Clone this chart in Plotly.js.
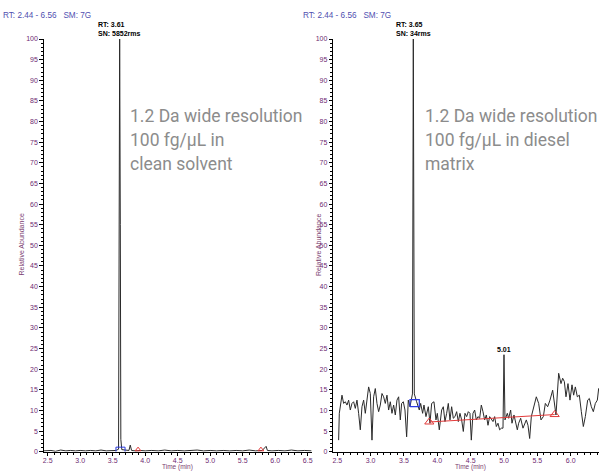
<!DOCTYPE html>
<html>
<head>
<meta charset="utf-8">
<script src="https://cdn.plot.ly/plotly-3.0.1.min.js"></script>
<style>
  html, body { margin: 0; padding: 0; overflow: hidden; background: #fff; }
  #chart { width: 610px; height: 472px; }
</style>
</head>
<body>
<div id="chart"></div>
<script>
// ---------- data ----------
// Left chromatogram: 100 fg/uL in clean solvent
const leftTime = [2.44, 2.55, 2.62, 2.70, 2.78, 2.85, 2.93, 3.00, 3.08, 3.16, 3.24, 3.32, 3.40, 3.48, 3.55, 3.59, 3.598, 3.607, 3.617, 3.625, 3.64, 3.70, 3.75, 3.77, 3.79, 3.85, 3.92, 4.0, 4.1, 4.2, 4.3, 4.4, 4.5, 4.6, 4.7, 4.8, 4.9, 5.0, 5.1, 5.2, 5.3, 5.4, 5.5, 5.6, 5.7, 5.8, 5.86, 5.88, 5.95, 6.05, 6.15, 6.25, 6.35, 6.45, 6.56];
const leftAbund = [0.2, 0.3, 0.1, 0.4, 0.2, 0.3, 0.2, 0.3, 0.2, 0.3, 0.2, 0.4, 0.2, 0.3, 0.3, 0.6, 40, 100, 55, 3, 0.5, 0.4, 0.3, 1.6, 0.3, 0.2, 0.3, 0.2, 0.3, 0.2, 0.4, 0.2, 0.3, 0.2, 0.3, 0.4, 0.2, 0.3, 0.2, 0.3, 0.2, 0.3, 0.2, 0.4, 0.2, 0.3, 1.3, 0.3, 0.2, 0.3, 0.2, 0.4, 0.2, 0.3, 0.2];

// Right chromatogram: 100 fg/uL in diesel matrix
const rightTime = [2.52, 2.53, 2.57, 2.595, 2.62, 2.645, 2.67, 2.695, 2.72, 2.745, 2.77, 2.795, 2.82, 2.845, 2.87, 2.895, 2.92, 2.945, 2.97, 2.995,
  3.02, 3.045, 3.07, 3.095, 3.12, 3.145, 3.17, 3.195, 3.22, 3.245, 3.27, 3.295, 3.32, 3.345, 3.37, 3.395, 3.42, 3.445, 3.465, 3.49,
  3.515, 3.54, 3.565, 3.59, 3.615, 3.627, 3.64, 3.655, 3.69, 3.73, 3.75, 3.78, 3.80, 3.83, 3.865, 3.89, 3.915, 3.95, 3.98, 4.0,
  4.03, 4.065, 4.09, 4.115, 4.14, 4.165, 4.19, 4.215, 4.24, 4.265, 4.29, 4.315, 4.34, 4.365, 4.39, 4.415, 4.44, 4.465, 4.49, 4.51,
  4.535, 4.56, 4.585, 4.61, 4.635, 4.66, 4.685, 4.71, 4.735, 4.76, 4.785, 4.81, 4.835, 4.86, 4.885, 4.91, 4.935, 4.96, 4.985, 5.0,
  5.015, 5.05, 5.07, 5.10, 5.12, 5.15, 5.17, 5.2, 5.22, 5.25, 5.285, 5.31, 5.335, 5.36, 5.385, 5.41, 5.435, 5.46, 5.485, 5.52,
  5.555, 5.59, 5.62, 5.655, 5.69, 5.73, 5.755, 5.78, 5.82, 5.855, 5.88, 5.905, 5.93, 5.96, 5.99, 6.02, 6.045, 6.07, 6.1, 6.13,
  6.16, 6.19, 6.22, 6.255, 6.28, 6.31, 6.34, 6.37, 6.40, 6.42, 6.45];
const rightAbund = [2.8, 9.3, 13.7, 11.7, 12.1, 11.3, 12.5, 10.1, 11.7, 12.1, 10.5, 12.5, 9.3, 5.3, 10.9, 12.5, 9.3, 12.1, 15.7, 14.1,
  2.8, 13.3, 15.3, 11.7, 9.7, 11.3, 14.1, 13.3, 11.7, 13.7, 10.1, 12.1, 9.3, 11.3, 8.9, 12.5, 13.3, 7.7, 11.7, 12.1,
  10.1, 3.6, 12.5, 10.9, 12.5, 14, 100, 14, 12.1, 10.1, 11.7, 9.3, 11.3, 8.5, 10.9, 6.9, 11.7, 12.1, 7.7, 9.3,
  5.3, 10.1, 10.9, 7.3, 9.3, 11.7, 7.7, 10.9, 8.1, 8.5, 9.7, 7.3, 9.3, 7.7, 4.9, 9.3, 8.5, 9.7, 9.3, 2.8,
  9.3, 10.1, 7.7, 8.5, 8.1, 11.3, 9.7, 7.7, 8.9, 6.4, 8.5, 7.7, 7.3, 8.5, 6.1, 6.9, 5.3, 5.7, 5.7, 23.5,
  7.7, 9.3, 8.1, 10.1, 6.9, 8.9, 7.7, 5.3, 6.9, 8.1, 5.7, 6.9, 7.7, 6.4, 3.2, 8.5, 10.1, 11.7, 13.3, 11.7,
  7.7, 8.5, 11.7, 10.9, 12.5, 14.9, 11.7, 8.9, 19.0, 16.5, 17.8, 17.0, 13.3, 16.5, 12.5, 16.2, 13.7, 15.7, 13.3, 13.7,
  9.7, 6.1, 8.5, 12.5, 12.9, 10.9, 9.7, 11.7, 12.5, 15.3, 14];

// noise-region markers (red) and peak-integration markers (blue)
const leftNoiseT = [3.89, 5.78];
const leftNoiseV = [0.5, 0.5];
const rightNoiseT = [3.88, 5.76];
const rightNoiseV = [7.2, 9.0];
const leftPeakBoxT = [3.55, 3.55, 3.69, 3.69];
const leftPeakBoxV = [0, 1.1, 1.1, 0];
const rightPeakBoxT = [3.59, 3.59, 3.73, 3.73, 3.59];
const rightPeakBoxV = [10.9, 12.6, 12.6, 10.9, 10.9];

// labels
const rangeLabel = 'RT: 2.44 - 6.56\u00a0\u00a0 SM: 7G';
const leftPeakRT = 'RT: 3.61';
const leftPeakSN = 'SN: 5852rms';
const rightPeakRT = 'RT: 3.65';
const rightPeakSN = 'SN: 34rms';
const secondPeakT = 5.0;
const secondPeakV = 23.5;
const secondPeakLabel = '5.01';
const leftNote = ['1.2 Da wide resolution', '100 fg/\u00b5L in', 'clean solvent'];
const rightNote = ['1.2 Da wide resolution', '100 fg/\u00b5L in diesel', 'matrix'];
const yTitle = 'Relative Abundance';
const xTitle = 'Time (min)';

// ---------- layout helpers ----------
const W = 610, H = 472;
const px = x => x / W;
const py = y => 1 - y / H;

const lineColor = '#2a2a2a';
const red = '#e23a3a';
const blue = '#2b3be0';
const tickColor = '#6e2a72';
const titleColor = '#7a4070';
const headColor = '#4f4fb0';
const noteColor = '#8c8c8c';
const baseFont = 'Arial, "Liberation Sans", sans-serif';

const traces = [
  {x: leftTime, y: leftAbund, xaxis: 'x', yaxis: 'y', mode: 'lines', line: {color: lineColor, width: 1}},
  {x: leftPeakBoxT, y: leftPeakBoxV, xaxis: 'x', yaxis: 'y', mode: 'lines', line: {color: blue, width: 1}},
  {x: leftNoiseT, y: leftNoiseV, xaxis: 'x', yaxis: 'y', mode: 'markers',
   marker: {symbol: 'triangle-up-open', size: 5, color: red, line: {width: 1, color: red}}},
  {x: rightTime, y: rightAbund, xaxis: 'x2', yaxis: 'y2', mode: 'lines', line: {color: lineColor, width: 1}},
  {x: rightNoiseT, y: rightNoiseV, xaxis: 'x2', yaxis: 'y2', mode: 'lines+markers',
   line: {color: red, width: 1}, marker: {symbol: 'triangle-up-open', size: 8, color: red, line: {width: 1, color: red}}},
  {x: rightPeakBoxT, y: rightPeakBoxV, xaxis: 'x2', yaxis: 'y2', mode: 'lines', line: {color: blue, width: 1.2}}
];

function xAxis(domain) {
  return {
    domain: domain, range: [2.44, 6.56], tick0: 2.5, dtick: 0.5, tickformat: '.1f',
    ticks: 'outside', ticklen: 3, tickwidth: 1, tickcolor: '#000', ticklabelstandoff: -1,
    showline: true, linecolor: '#000', linewidth: 1, zeroline: false, showgrid: false,
    minor: {dtick: 0.1, tick0: 2.5, ticks: 'outside', ticklen: 2, tickcolor: '#000', tickwidth: 1, showgrid: false},
    tickfont: {family: baseFont, size: 7, color: tickColor}, fixedrange: true
  };
}
function yAxis(anchor) {
  return {
    domain: [20.3 / H, 433 / H], range: [0, 100], tick0: 0, dtick: 5, anchor: anchor,
    ticks: 'outside', ticklen: 3.5, tickwidth: 1, tickcolor: '#000',
    showline: true, linecolor: '#000', linewidth: 1, zeroline: false, showgrid: false,
    minor: {dtick: 1, tick0: 0, ticks: 'outside', ticklen: 2, tickcolor: '#000', tickwidth: 1, showgrid: false},
    tickfont: {family: baseFont, size: 7, color: tickColor}, fixedrange: true
  };
}

const ann = [];
function txt(x, y, text, opts) {
  ann.push(Object.assign({xref: 'paper', yref: 'paper', x: x, y: y, text: text, showarrow: false,
    xanchor: 'left', yanchor: 'middle', borderpad: 0, font: {family: baseFont, size: 7, color: '#000'}}, opts || {}));
}
// headers
txt(px(2), py(15), rangeLabel, {font: {family: baseFont, size: 8.2, color: headColor}});
txt(px(302), py(15), rangeLabel, {font: {family: baseFont, size: 8.2, color: headColor}});
// peak labels
txt(px(97), py(25), '<b>' + leftPeakRT + '</b>');
txt(px(97), py(33), '<b>' + leftPeakSN + '</b>');
txt(px(395), py(25), '<b>' + rightPeakRT + '</b>');
txt(px(395), py(33), '<b>' + rightPeakSN + '</b>');
ann.push({xref: 'x2', yref: 'y2', x: secondPeakT, y: secondPeakV, text: '<b>' + secondPeakLabel + '</b>',
  showarrow: false, xanchor: 'center', yanchor: 'bottom', yshift: 1, borderpad: 0,
  font: {family: baseFont, size: 7, color: '#000'}});
// notes
const noteY = [116, 140, 164];
leftNote.forEach((s, i) => txt(px(129), py(noteY[i]), s, {font: {family: 'Roboto, sans-serif', size: 17.5, color: noteColor}}));
rightNote.forEach((s, i) => txt(px(424), py(noteY[i]), s, {font: {family: 'Roboto, sans-serif', size: 17.5, color: noteColor}}));
// axis titles
[21.5, 319].forEach(xp => txt(px(xp), py(245), yTitle,
  {xanchor: 'center', textangle: -90, font: {family: baseFont, size: 7, color: titleColor}}));
[177.7, 470.6].forEach(xp => txt(px(xp), py(471.8), xTitle,
  {xanchor: 'center', yanchor: 'bottom', font: {family: baseFont, size: 6.5, color: titleColor}}));

const layout = {
  width: W, height: H,
  margin: {l: 0, r: 0, t: 0, b: 0, pad: 0},
  paper_bgcolor: '#fff', plot_bgcolor: '#fff',
  showlegend: false,
  xaxis: Object.assign(xAxis([43.8 / W, 311.6 / W]), {anchor: 'y'}),
  yaxis: yAxis('x'),
  xaxis2: Object.assign(xAxis([333.3 / W, 608 / W]), {anchor: 'y2'}),
  yaxis2: yAxis('x2'),
  annotations: ann
};

Plotly.newPlot('chart', traces, layout, {staticPlot: true, displayModeBar: false});
</script>
</body>
</html>
